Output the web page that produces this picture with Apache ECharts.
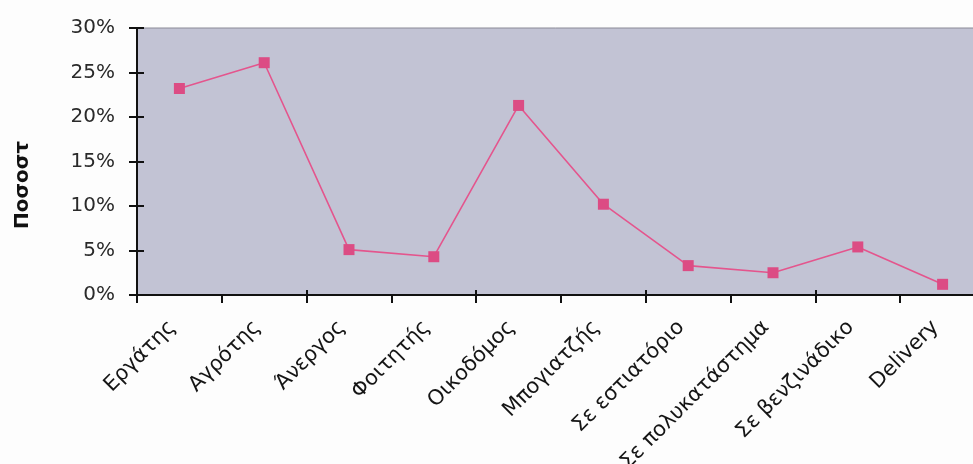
<!DOCTYPE html>
<html>
<head>
<meta charset="utf-8">
<script src="https://cdn.jsdelivr.net/npm/echarts@6/dist/echarts.min.js"></script>
<style>
  html, body { margin: 0; padding: 0; background: #fdfdfd; }
  #chart { width: 973px; height: 464px; }
</style>
</head>
<body>
<div id="chart"></div>
<script>
const categories = ["Εργάτης", "Αγρότης", "Άνεργος", "Φοιτητής", "Οικοδόμος", "Μπογιατζής", "Σε εστιατόριο", "Σε πολυκατάστημα", "Σε βενζινάδικο", "Delivery"];
const values = [23.2, 26.1, 5.1, 4.3, 21.3, 10.2, 3.3, 2.5, 5.4, 1.2];
const yTicks = [0, 5, 10, 15, 20, 25, 30];
const yTitle = "Ποσοστ";

const chart = echarts.init(document.getElementById('chart'), null, { renderer: 'canvas' });
const axisFont = 'DejaVu Sans';
chart.setOption({
  animation: false,
  backgroundColor: '#fdfdfd',
  grid: {
    left: 137, top: 28, right: -12, bottom: 169,
    containLabel: false, outerBoundsMode: 'none',
    show: true, backgroundColor: '#c2c3d4', borderColor: '#8a8a96', borderWidth: 1
  },
  graphic: [{
    type: 'text',
    rotation: Math.PI / 2,
    x: 23, y: 185,
    style: { text: yTitle, font: 'bold 20px "DejaVu Sans"', fill: '#111', textAlign: 'center', textVerticalAlign: 'middle' }
  }],
  xAxis: [{
    type: 'category', data: categories, boundaryGap: true,
    axisLine: { lineStyle: { color: '#111', width: 2 } },
    axisTick: { show: true, length: 8, lineStyle: { color: '#111', width: 2 } },
    axisLabel: { rotate: 45, margin: 22, padding: [0, 10, 0, 0], fontSize: 21, fontFamily: axisFont, color: '#151515', interval: 0 }
  }, {
    type: 'category', data: categories, boundaryGap: true, position: 'bottom',
    axisLine: { show: false },
    axisTick: { show: true, inside: true, length: 5, lineStyle: { color: '#111', width: 2 } },
    axisLabel: { show: false }
  }],
  yAxis: [{
    type: 'value', min: yTicks[0], max: yTicks[yTicks.length - 1], interval: 5,
    axisLine: { show: true, lineStyle: { color: '#111', width: 2 } },
    axisTick: { show: true, length: 8, lineStyle: { color: '#111', width: 2 } },
    splitLine: { show: false },
    axisLabel: { formatter: '{value}%', margin: 22, fontSize: 20, fontFamily: axisFont, color: '#2a2a2a' }
  }, {
    type: 'value', min: yTicks[0], max: yTicks[yTicks.length - 1], interval: 5, position: 'left',
    axisLine: { show: false },
    axisTick: { show: true, inside: true, length: 7, lineStyle: { color: '#111', width: 2 } },
    splitLine: { show: false },
    axisLabel: { show: false }
  }],
  series: [{
    type: 'line', data: values, xAxisIndex: 0, yAxisIndex: 0,
    symbol: 'rect', symbolSize: 11,
    lineStyle: { color: '#e4558d', width: 1.6 },
    itemStyle: { color: '#dc4c84' }
  }]
});
</script>
</body>
</html>
